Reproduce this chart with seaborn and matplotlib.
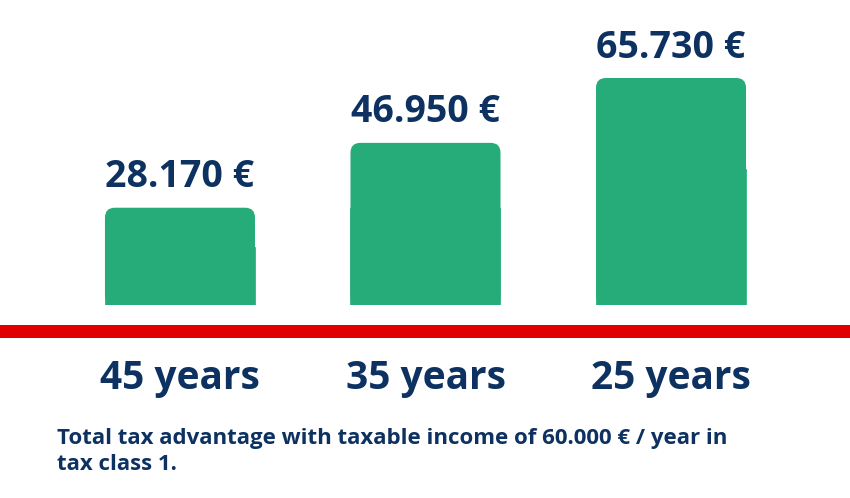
import matplotlib
matplotlib.use("Agg")
import matplotlib.pyplot as plt
import seaborn as sns
import pandas as pd
from matplotlib.patches import FancyBboxPatch, Rectangle

categories = ["45 years", "35 years", "25 years"]
values = [28170, 46950, 65730]
value_labels = ["28.170 €", "46.950 €", "65.730 €"]
footnote = "Total tax advantage with taxable income of 60.000 € / year in\ntax class 1."

navy = "#0D3161"
green = "#25AC78"
red = "#E00000"

sns.set_theme(style="white")
plt.rcParams['font.family'] = ['Open Sans', 'DejaVu Sans']

fig = plt.figure(figsize=(8.5, 4.98), dpi=100)
ax = fig.add_axes([0, (498 - 305) / 498, 1, 305 / 498])
df = pd.DataFrame({"cat": categories, "val": values})
sns.barplot(data=df, x="cat", y="val", color=green, width=0.611, ax=ax, saturation=1)
ax.set_xlim(-0.733, 2.729)
ax.set_ylim(0, 65730 * 305 / 227)
ax.axis("off")

for p, lab in zip(list(ax.patches), value_labels):
    x, y, w, h = p.get_x(), p.get_y(), p.get_width(), p.get_height()
    p.remove()
    r = FancyBboxPatch((x, y), w, h, boxstyle="round,pad=0,rounding_size=0.04",
                       mutation_aspect=(ax.get_ylim()[1] / 305) / (3.462 / 850),
                       fc=green, ec="none", lw=0)
    ax.add_patch(r)
    ax.add_patch(Rectangle((x, y), w, h * 0.6, fc=green, ec=green, lw=0.5))
    ax.text(x + w / 2, h + 3300, lab, ha="center", va="bottom", fontsize=27,
            fontweight="bold", color=navy)

fig.patches.append(Rectangle((0, (498 - 338) / 498), 1, 13 / 498, transform=fig.transFigure,
                             fc=red, ec="none"))

for i, c in enumerate(categories):
    xf = (180 + i * 245.5) / 850
    fig.text(xf, 1 - 378 / 498, c, ha="center", va="center", fontsize=28,
             fontweight="bold", color=navy)

fig.text(57 / 850, 1 - 428 / 498, footnote, ha="left", va="top", fontsize=16,
         fontweight="bold", color=navy, linespacing=1.3)

fig.savefig("out.png", dpi=100)
